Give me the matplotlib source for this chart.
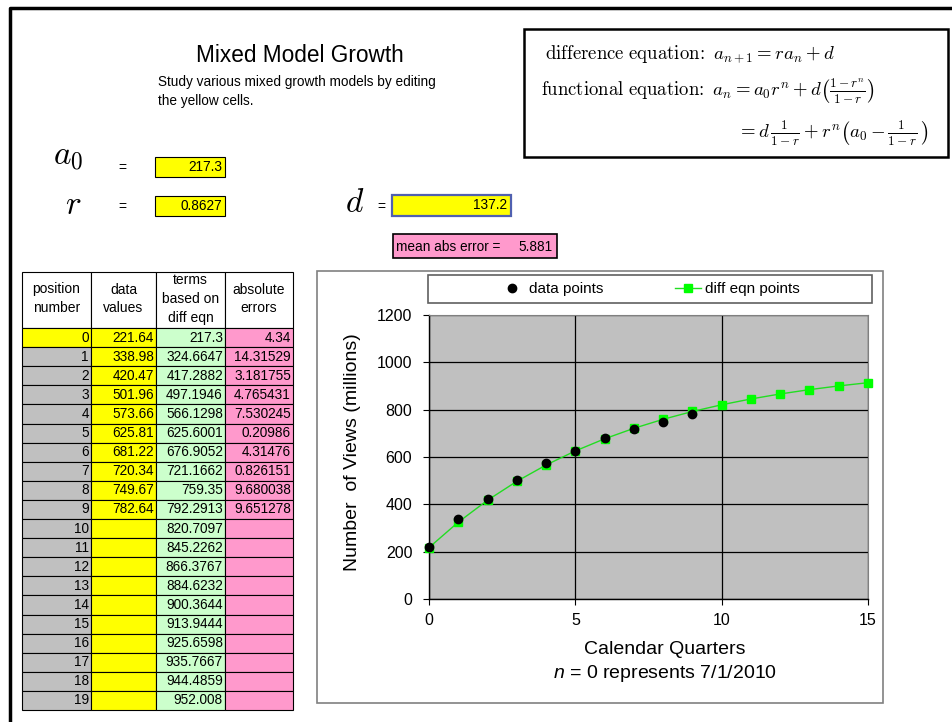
import matplotlib
matplotlib.use("Agg")
import matplotlib.pyplot as plt
from matplotlib.patches import Rectangle
from matplotlib.lines import Line2D

plt.rcParams['font.family'] = ['Liberation Sans', 'DejaVu Sans']
plt.rcParams['mathtext.fontset'] = 'cm'
plt.rcParams['mathtext.it'] = 'Liberation Sans:italic'
plt.rcParams['mathtext.rm'] = 'Liberation Sans'

# model parameters (the yellow cells)
a0 = 217.3
r = 0.8627
d = 137.2
mean_abs_error = 5.881

# table columns
positions = list(range(20))
data_values = [221.64, 338.98, 420.47, 501.96, 573.66, 625.81, 681.22, 720.34, 749.67, 782.64]
diff_eqn_terms = [217.3, 324.6647, 417.2882, 497.1946, 566.1298, 625.6001, 676.9052, 721.1662,
                  759.35, 792.2913, 820.7097, 845.2262, 866.3767, 884.6232, 900.3644, 913.9444,
                  925.6598, 935.7667, 944.4859, 952.008]
abs_errors = [4.34, 14.31529, 3.181755, 4.765431, 7.530245, 0.20986, 4.31476, 0.826151,
              9.680038, 9.651278]
headers = ["position\nnumber", "data\nvalues", "terms\nbased on\ndiff eqn", "absolute\nerrors"]

# chart shows quarters 0..15
n_chart = 16
x_ticks = [0, 5, 10, 15]
y_ticks = [0, 200, 400, 600, 800, 1000, 1200]

YELLOW = '#FFFF00'
GRAY = '#C0C0C0'
GREEN = '#CCFFCC'
PINK = '#FF99CC'
FS = 9.8

fig = plt.figure(figsize=(9.53, 7.22), dpi=100)

# background "sheet" axes in pixel units
bg = fig.add_axes([0, 0, 1, 1])
bg.set_xlim(0, 953)
bg.set_ylim(722, 0)
bg.axis('off')


def box(x0, y0, x1, y1, fc='none', ec='black', lw=0.8, z=1):
    bg.add_patch(Rectangle((x0, y0), x1 - x0, y1 - y0, facecolor=fc,
                           edgecolor=ec, linewidth=lw, zorder=z))


# outer frame
bg.plot([10, 10, 953], [722, 8, 8], color='black', lw=2.5, solid_capstyle='butt')

# title block
bg.text(300, 55, "Mixed Model Growth", ha='center', va='center', fontsize=16.3)
bg.text(158, 82, "Study various mixed growth models by editing", va='center', fontsize=FS)
bg.text(158, 101, "the yellow cells.", va='center', fontsize=FS)

# parameter cells
bg.text(68, 157, r'$a_0$', fontsize=24, ha='center', va='center', math_fontfamily='cm')
bg.text(122, 168, '=', fontsize=10, ha='center', va='center')
box(155, 157, 225, 177, fc=YELLOW)
bg.text(222, 167, f'{a0:g}', ha='right', va='center', fontsize=FS)

bg.text(73, 205, r'$r$', fontsize=24, ha='center', va='center', math_fontfamily='cm')
bg.text(122, 207, '=', fontsize=10, ha='center', va='center')
box(155, 196, 225, 216, fc=YELLOW)
bg.text(222, 206, f'{r:g}', ha='right', va='center', fontsize=FS)

bg.text(355, 203, r'$d$', fontsize=24, ha='center', va='center', math_fontfamily='cm')
bg.text(381, 207, '=', fontsize=10, ha='center', va='center')
box(392, 195, 511, 216, fc=YELLOW, ec='#5060b0', lw=1.6)
bg.text(507, 205, f'{d:g}', ha='right', va='center', fontsize=FS)

box(393, 234, 557, 258, fc=PINK, ec='black', lw=1.2)
bg.text(396, 247, 'mean abs error =', ha='left', va='center', fontsize=FS)
bg.text(553, 247, f'{mean_abs_error:g}', ha='right', va='center', fontsize=FS)

# formula box
box(524, 29, 948, 157, fc='white', ec='black', lw=1.8)
bg.text(545, 54, r'$\mathrm{difference\ equation}\!{:}\ a_{n+1} = ra_n + d$',
        fontsize=13.5, va='center', math_fontfamily='cm')
bg.text(541, 91, r'$\mathrm{functional\ equation}\!{:}\ a_n = a_0 r^n + d\left(\frac{1-r^n}{1-r}\right)$',
        fontsize=13.5, va='center', math_fontfamily='cm')
bg.text(737, 133, r'$= d\,\frac{1}{1-r} + r^n\left(a_0 - \frac{1}{1-r}\,\right)$',
        fontsize=13.5, va='center', math_fontfamily='cm')

# table
cols = [22, 91, 156, 225, 293]
head_top, head_bot = 272, 328
row_h = 19.1
for c in range(4):
    box(cols[c], head_top, cols[c + 1], head_bot, fc='white')
    lines = headers[c].split('\n')
    for k, line in enumerate(lines):
        y = 299 + (k - (len(lines) - 1) / 2) * 19
        bg.text((cols[c] + cols[c + 1]) / 2, y, line, ha='center', va='center', fontsize=10)

for i, p in enumerate(positions):
    y0 = head_bot + i * row_h
    y1 = y0 + row_h
    yc = (y0 + y1) / 2
    box(cols[0], y0, cols[1], y1, fc=YELLOW if i == 0 else GRAY)
    box(cols[1], y0, cols[2], y1, fc=YELLOW)
    box(cols[2], y0, cols[3], y1, fc=GREEN)
    box(cols[3], y0, cols[4], y1, fc=PINK)
    bg.text(cols[1] - 2, yc, str(p), ha='right', va='center', fontsize=FS)
    if i < len(data_values):
        bg.text(cols[2] - 2, yc, f'{data_values[i]:.7g}', ha='right', va='center', fontsize=FS)
        bg.text(cols[4] - 2, yc, f'{abs_errors[i]:.7g}', ha='right', va='center', fontsize=FS)
    bg.text(cols[3] - 2, yc, f'{diff_eqn_terms[i]:.7g}', ha='right', va='center', fontsize=FS)

# chart frame and legend frame
box(317, 271, 883, 703, fc='white', ec='#808080', lw=1.2)
box(428, 275, 872, 303, fc='white', ec='#606060', lw=1.2)

# chart
ax = fig.add_axes([429 / 953, 1 - 599 / 722, (868 - 429) / 953, (599 - 315) / 722])
ax.set_facecolor(GRAY)
ax.plot(positions[:n_chart], diff_eqn_terms[:n_chart], color='#22dd22', lw=1,
        marker='s', ms=5.5, mfc='#00FF00', mec='#00FF00', clip_on=False, zorder=3)
ax.plot(positions[:len(data_values)], data_values, 'o', color='black', ms=6,
        clip_on=False, zorder=4)
ax.set_xlim(0, 15)
ax.set_ylim(0, 1200)
ax.set_xticks(x_ticks)
ax.set_yticks(y_ticks)
ax.grid(True, color='black', lw=0.9)
ax.set_axisbelow(True)
ax.tick_params(axis='both', labelsize=11.5, length=4, width=0.8, direction='out')
ax.tick_params(axis='x', pad=6)
ax.tick_params(axis='y', pad=8)
for s in ['top', 'right']:
    ax.spines[s].set_color('#808080')
for s in ['left', 'bottom']:
    ax.spines[s].set_color('black')
    ax.spines[s].set_linewidth(1)

h_data = Line2D([], [], ls='none', marker='o', color='black', ms=6, label='data points')
h_diff = Line2D([], [], color='#22dd22', lw=1, marker='s', ms=5.5, mfc='#00FF00',
                mec='#00FF00', label='diff eqn points')
ax.legend(handles=[h_data, h_diff], loc='center left', bbox_to_anchor=(499 / 953, 1 - 289 / 722),
          bbox_transform=fig.transFigure, ncol=2, frameon=False, fontsize=11,
          handlelength=1.7, handletextpad=0.26, columnspacing=4.7, borderpad=0, borderaxespad=0)

bg.text(353, 452, 'Number  of Views (millions)', rotation=90, ha='center', va='center', fontsize=14)
bg.text(665, 650, 'Calendar Quarters', ha='center', va='center', fontsize=14)
bg.text(665, 674, r'$n$ = 0 represents 7/1/2010', ha='center', va='center', fontsize=14,
        math_fontfamily='custom')

fig.savefig('out.png', dpi=100)
